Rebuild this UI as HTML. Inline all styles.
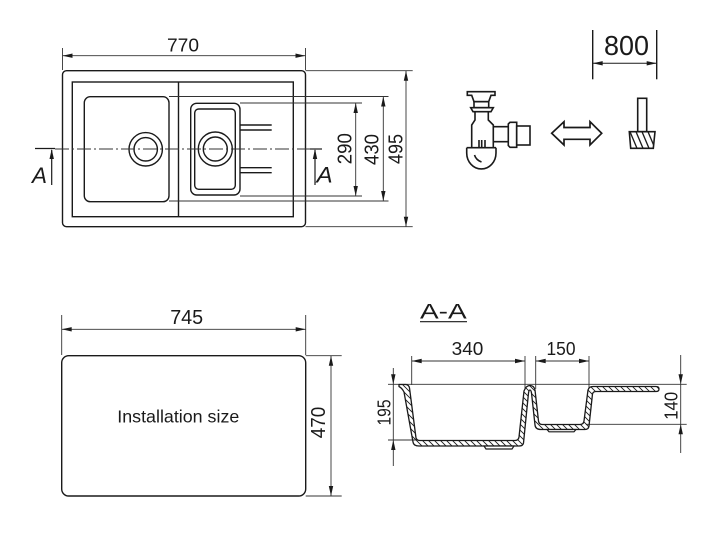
<!DOCTYPE html>
<html>
<head>
<meta charset="utf-8">
<style>
  html,body{margin:0;padding:0;background:#fff;}
  svg{display:block;}
  text{font-family:"Liberation Sans",sans-serif;fill:#1a1a1a;}
</style>
</head>
<body>
<svg width="720" height="534" viewBox="0 0 720 534" xmlns="http://www.w3.org/2000/svg">
  <defs>
    <pattern id="hatch" patternUnits="userSpaceOnUse" width="6" height="6">
      <path d="M0,0 L6,6 M-1,5 L1,7 M5,-1 L7,1" stroke="#1a1a1a" stroke-width="0.9"/>
    </pattern>
    <clipPath id="pipeclip">
      <polygon points="629.3,131.7 655,131.7 653.3,148.3 630.7,148.3"/>
    </clipPath>
  </defs>

  <!-- ============ TOP VIEW ============ -->
  <g fill="none" stroke="#1a1a1a" stroke-width="1.4">
    <rect x="62.5" y="70.7" width="243" height="156" rx="4"/>
    <rect x="72.3" y="82" width="221" height="134.7"/>
    <line x1="178.5" y1="82" x2="178.5" y2="216.7"/>
    <!-- big bowl -->
    <rect x="84.3" y="96.7" width="84.7" height="105" rx="6"/>
    <circle cx="145.7" cy="149.3" r="16.7"/>
    <circle cx="145.7" cy="149.3" r="11.7"/>
    <!-- small bowl -->
    <rect x="190.7" y="103.3" width="49.3" height="91.7" rx="6"/>
    <rect x="194.7" y="109" width="40.6" height="80.3" rx="4"/>
    <circle cx="215.3" cy="149" r="17"/>
    <circle cx="215.3" cy="149" r="12"/>
    <!-- drain bars -->
    <line x1="240" y1="125" x2="271.7" y2="125"/>
    <line x1="240" y1="130" x2="271.7" y2="130"/>
    <line x1="240" y1="167.7" x2="271.7" y2="167.7"/>
    <line x1="240" y1="172.7" x2="271.7" y2="172.7"/>
  </g>

  <!-- centre line -->
  <line x1="55" y1="149" x2="310" y2="149" stroke="#333" stroke-width="0.9" stroke-dasharray="14,3,2,3"/>

  <!-- section marks -->
  <g stroke="#1a1a1a" stroke-width="1.2" fill="#1a1a1a">
    <line x1="35" y1="148.5" x2="55" y2="148.5"/>
    <line x1="51.7" y1="150" x2="51.7" y2="185"/>
    <polygon points="51.7,149 49.5,159 53.9,159" stroke="none"/>
    <line x1="310" y1="149" x2="322" y2="149"/>
    <line x1="315" y1="150" x2="315" y2="185"/>
    <polygon points="315,149 312.8,159 317.2,159" stroke="none"/>
  </g>
  <text x="32" y="183" font-size="22" font-style="italic" textLength="15" lengthAdjust="spacingAndGlyphs">A</text>
  <text x="316.7" y="182.7" font-size="22" font-style="italic" textLength="16" lengthAdjust="spacingAndGlyphs">A</text>

  <!-- dimension lines top view -->
  <g stroke="#333" stroke-width="0.9" fill="none">
    <!-- 770 -->
    <line x1="62.5" y1="48" x2="62.5" y2="70"/>
    <line x1="305.5" y1="48" x2="305.5" y2="70"/>
    <line x1="62.5" y1="55.7" x2="305.5" y2="55.7"/>
    <!-- extension lines right -->
    <line x1="305.5" y1="70.7" x2="412.7" y2="70.7"/>
    <line x1="305.5" y1="226.7" x2="412.7" y2="226.7"/>
    <line x1="169" y1="96.5" x2="388.5" y2="96.5"/>
    <line x1="169" y1="201" x2="388.5" y2="201"/>
    <line x1="240" y1="103" x2="362" y2="103"/>
    <line x1="240" y1="196" x2="362" y2="196"/>
    <!-- vertical dims -->
    <line x1="355.7" y1="103" x2="355.7" y2="196"/>
    <line x1="383.3" y1="96.5" x2="383.3" y2="201"/>
    <line x1="406" y1="70.7" x2="406" y2="226.7"/>
  </g>
  <g fill="#1a1a1a">
    <polygon points="62.5,55.7 72.5,53.5 72.5,57.9"/>
    <polygon points="305.5,55.7 295.5,53.5 295.5,57.9"/>
    <polygon points="355.7,103 353.5,113 357.9,113"/>
    <polygon points="355.7,196 353.5,186 357.9,186"/>
    <polygon points="383.3,96.5 381.1,106.5 385.5,106.5"/>
    <polygon points="383.3,201 381.1,191 385.5,191"/>
    <polygon points="406,70.7 403.8,80.7 408.2,80.7"/>
    <polygon points="406,226.7 403.8,216.7 408.2,216.7"/>
  </g>
  <text x="183" y="51.7" font-size="18" text-anchor="middle" textLength="32" lengthAdjust="spacingAndGlyphs">770</text>
  <text transform="translate(351.7,148.7) rotate(-90)" font-size="20" text-anchor="middle" textLength="31" lengthAdjust="spacingAndGlyphs">290</text>
  <text transform="translate(378.3,149.5) rotate(-90)" font-size="20" text-anchor="middle" textLength="31" lengthAdjust="spacingAndGlyphs">430</text>
  <text transform="translate(402.3,149) rotate(-90)" font-size="20" text-anchor="middle" textLength="30" lengthAdjust="spacingAndGlyphs">495</text>

  <!-- ============ SIPHON ICON ============ -->
  <g fill="none" stroke="#1a1a1a" stroke-width="1.6" stroke-linejoin="miter">
    <polygon points="467.3,91.7 495,91.7 495,95.3 491,95.3 488.7,101.7 474,101.7 471.7,95.3 467.3,95.3"/>
    <rect x="474" y="101.7" width="14.7" height="6"/>
    <polygon points="470.7,107.7 493.3,107.7 491,111.7 473,111.7"/>
    <path d="M475,111.7 V120 L471.7,125 V147.7 M488.3,111.7 V120 L493.3,125 V147.7"/>
    <line x1="466.7" y1="147.7" x2="496" y2="147.7"/>
    <path d="M466.7,147.7 V153 A14.65,16 0 0 0 496,153 V147.7"/>
    <path d="M474.5,155 Q476,160 481.5,162"/>
    <path d="M479,140 V147.7 M481.7,140 V147.7 M485,140 V147.7"/>
    <path d="M493.3,126.7 H508.3 M493.3,141.7 H508.3"/>
    <polygon points="508.3,124 510,122.3 516.7,122.3 516.7,147.3 510,147.3 508.3,145.6"/>
    <rect x="516.7" y="126" width="13.3" height="19"/>
  </g>
  <!-- double arrow -->
  <polygon points="551.7,133.3 564,121.7 564,127.5 590,127.5 590,121.7 601.7,133.3 590,145 590,139.3 564,139.3 564,145" fill="none" stroke="#1a1a1a" stroke-width="1.7"/>
  <!-- pipe icon -->
  <g fill="none" stroke="#1a1a1a" stroke-width="1.6">
    <rect x="637.7" y="98.3" width="9" height="33.4"/>
    <g clip-path="url(#pipeclip)" stroke-width="1.3">
      <line x1="624" y1="131.7" x2="631" y2="148.3"/>
      <line x1="630" y1="131.7" x2="637" y2="148.3"/>
      <line x1="636" y1="131.7" x2="643" y2="148.3"/>
      <line x1="642" y1="131.7" x2="649" y2="148.3"/>
      <line x1="648" y1="131.7" x2="655" y2="148.3"/>
    </g>
    <polygon points="629.3,131.7 655,131.7 653.3,148.3 630.7,148.3"/>
  </g>
  <!-- 800 -->
  <g stroke="#1a1a1a" stroke-width="1.4">
    <line x1="592.7" y1="30" x2="592.7" y2="79.3"/>
    <line x1="656.7" y1="30" x2="656.7" y2="79.3"/>
    <line x1="592.7" y1="63.3" x2="656.7" y2="63.3" stroke-width="1"/>
  </g>
  <g fill="#1a1a1a">
    <polygon points="592.7,63.3 602.7,61.1 602.7,65.5"/>
    <polygon points="656.7,63.3 646.7,61.1 646.7,65.5"/>
  </g>
  <text x="626.5" y="55" font-size="28" text-anchor="middle" textLength="45" lengthAdjust="spacingAndGlyphs">800</text>

  <!-- ============ INSTALLATION SIZE ============ -->
  <rect x="61.7" y="355.7" width="244" height="140.3" rx="7" fill="none" stroke="#1a1a1a" stroke-width="1.4"/>
  <g stroke="#333" stroke-width="0.9">
    <line x1="61.7" y1="315" x2="61.7" y2="355"/>
    <line x1="305.7" y1="315" x2="305.7" y2="355"/>
    <line x1="61.7" y1="329.3" x2="305.7" y2="329.3"/>
    <line x1="305.7" y1="355.7" x2="341.7" y2="355.7"/>
    <line x1="305.7" y1="496" x2="341.7" y2="496"/>
    <line x1="331" y1="355.7" x2="331" y2="496"/>
  </g>
  <g fill="#1a1a1a">
    <polygon points="61.7,329.3 71.7,327.1 71.7,331.5"/>
    <polygon points="305.7,329.3 295.7,327.1 295.7,331.5"/>
    <polygon points="331,355.7 328.8,365.7 333.2,365.7"/>
    <polygon points="331,496 328.8,486 333.2,486"/>
  </g>
  <text x="186.7" y="324" font-size="20" text-anchor="middle" textLength="33" lengthAdjust="spacingAndGlyphs">745</text>
  <text transform="translate(325,422.5) rotate(-90)" font-size="20" text-anchor="middle" textLength="31.5" lengthAdjust="spacingAndGlyphs">470</text>
  <text x="117.3" y="422.7" font-size="17.5" textLength="122" lengthAdjust="spacingAndGlyphs">Installation size</text>

  <!-- ============ SECTION A-A ============ -->
  <text x="420" y="318.3" font-size="21" textLength="46.7" lengthAdjust="spacingAndGlyphs">A-A</text>
  <line x1="420" y1="321.7" x2="467" y2="321.7" stroke="#1a1a1a" stroke-width="1.2"/>

  <g stroke="#333" stroke-width="0.9">
    <line x1="388" y1="384.3" x2="686.7" y2="384.3"/>
    <line x1="388" y1="440" x2="418" y2="440"/>
    <line x1="586" y1="424.3" x2="686.7" y2="424.3"/>
    <line x1="411.7" y1="356" x2="411.7" y2="385"/>
    <line x1="525" y1="356" x2="525" y2="390"/>
    <line x1="535.7" y1="356" x2="535.7" y2="389"/>
    <line x1="589" y1="356" x2="589" y2="388"/>
    <line x1="411.7" y1="361" x2="525" y2="361"/>
    <line x1="535.7" y1="361" x2="589" y2="361"/>
    <line x1="393.3" y1="368" x2="393.3" y2="466"/>
    <line x1="680.7" y1="355" x2="680.7" y2="453"/>
  </g>
  <g fill="#1a1a1a">
    <polygon points="411.7,361 421.7,358.8 421.7,363.2"/>
    <polygon points="525,361 515,358.8 515,363.2"/>
    <polygon points="535.7,361 545.7,358.8 545.7,363.2"/>
    <polygon points="589,361 579,358.8 579,363.2"/>
    <polygon points="393.3,384.3 391.1,374.3 395.5,374.3"/>
    <polygon points="393.3,440 391.1,450 395.5,450"/>
    <polygon points="680.7,384.3 678.5,374.3 682.9,374.3"/>
    <polygon points="680.7,424.3 678.5,434.3 682.9,434.3"/>
  </g>
  <text x="467.5" y="355" font-size="18" text-anchor="middle" textLength="31.7" lengthAdjust="spacingAndGlyphs">340</text>
  <text x="561" y="355" font-size="18" text-anchor="middle" textLength="29" lengthAdjust="spacingAndGlyphs">150</text>
  <text transform="translate(390.7,412.5) rotate(-90)" font-size="18" text-anchor="middle" textLength="26" lengthAdjust="spacingAndGlyphs">195</text>
  <text transform="translate(677.7,405.8) rotate(-90)" font-size="18" text-anchor="middle" textLength="28" lengthAdjust="spacingAndGlyphs">140</text>

  <!-- shell -->
  <path d="M399,384.5 L406,384.5 Q409,385 409.5,388 L416,438 Q417,440.5 420,440.5 L515,440.5 Q518.5,440.5 519,437 L524,391 Q526,385.5 530,385.5 Q534,385.5 535,390 L538.5,421 Q539,424.5 542,424.5 L580,424.5 Q583.5,424.5 584,421 L588,390 Q589,386.5 593,386.5 L656,386.5 Q659,386.5 659,389 Q659,391.5 656,391.5 L596,391.5 Q593,391.5 592.5,394 L589,426 Q588.5,429.5 585,429.5 L541,429.5 Q535.5,429.5 535,425 L531.5,393 Q531,390 530,390 Q529,390 528.5,393 L523.5,443 Q523,446 519,446 L419,446 Q413.5,446 413,442 L404,392 Q402,388 399,386.5 Z"
        fill="url(#hatch)" stroke="#1a1a1a" stroke-width="1.3" stroke-linejoin="round"/>
  <!-- drain dips -->
  <polygon points="484,446 486,449 512,449 514,446" fill="#fff" stroke="#1a1a1a" stroke-width="1.2"/>
  <polygon points="547,429.5 549,431.8 574,431.8 576,429.5" fill="#fff" stroke="#1a1a1a" stroke-width="1.2"/>
</svg>
</body>
</html>
